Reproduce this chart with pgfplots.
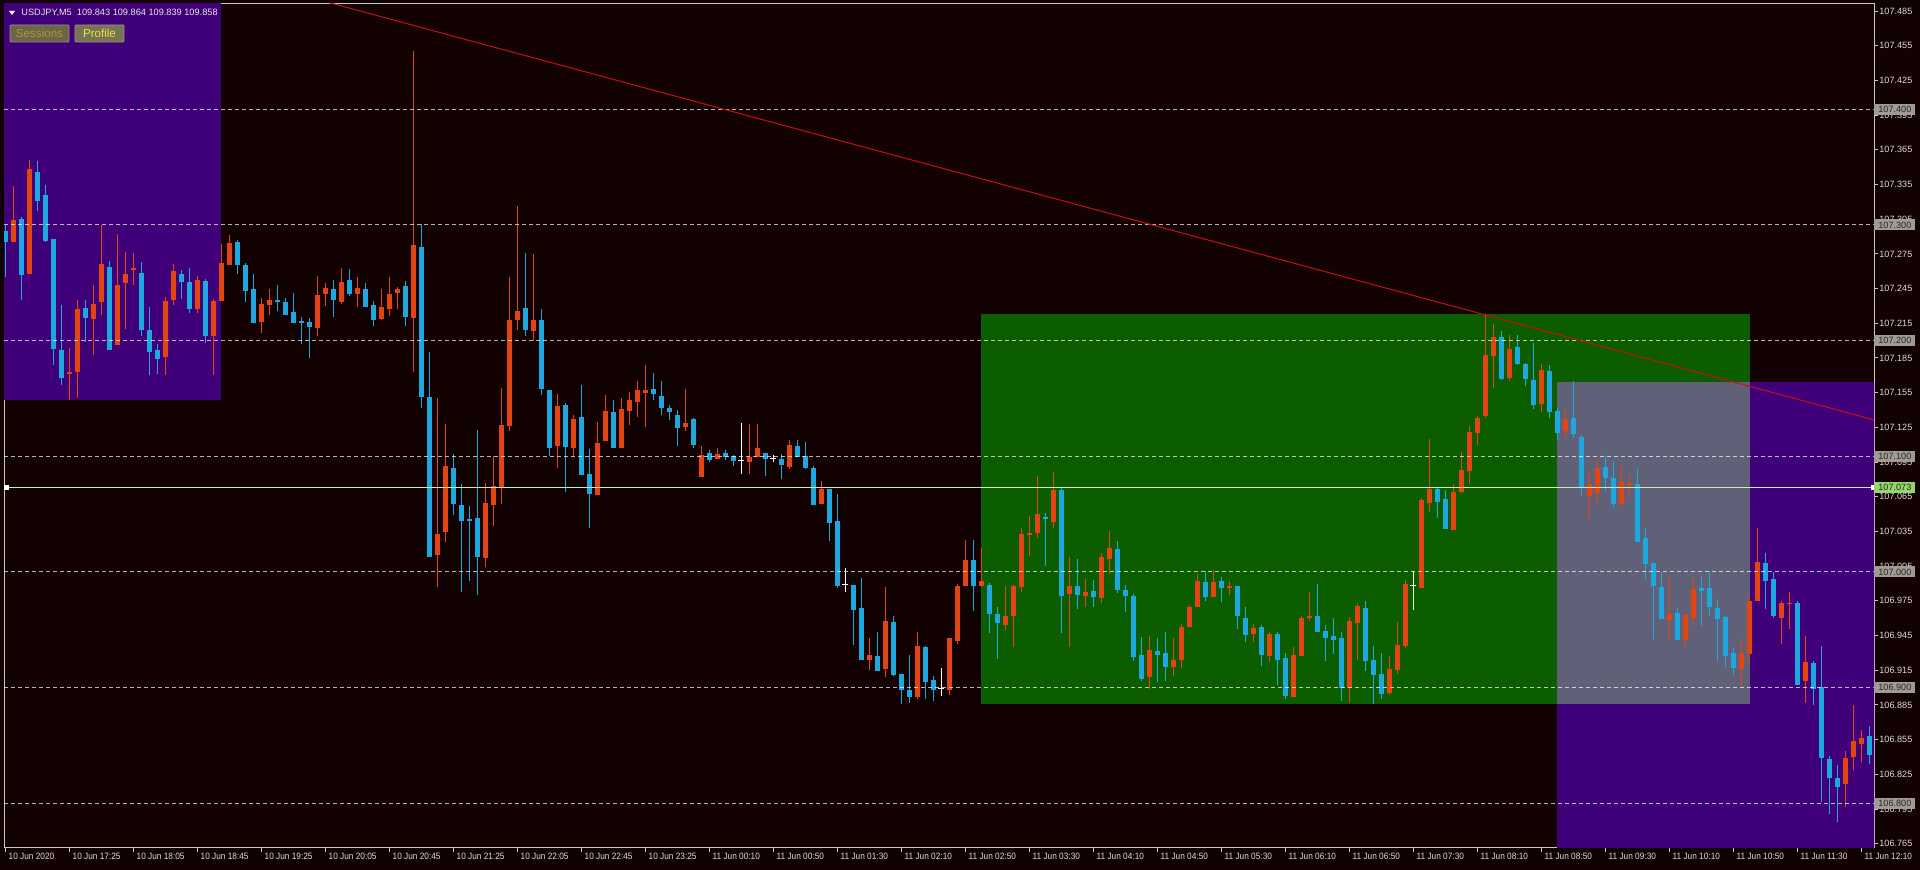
\documentclass[border=0pt]{standalone}
\usepackage{fontspec}
\setmainfont{Liberation Sans}
\newfontfamily\narrowfont{Liberation Sans}[FakeStretch=0.9]
\usepackage{pgfplots}
\usepackage{pgfplotstable}
\pgfplotsset{compat=1.18}
\definecolor{bgc}{RGB}{18,2,2}
\definecolor{purp}{RGB}{64,0,122}
\definecolor{grn}{RGB}{12,92,0}
\definecolor{gry}{RGB}{96,96,120}
\definecolor{upc}{RGB}{226,68,18}
\definecolor{dnc}{RGB}{30,168,224}
\definecolor{trend}{RGB}{200,16,16}
\definecolor{pline}{RGB}{200,238,176}
\definecolor{lvlbox}{RGB}{160,156,148}
\definecolor{pbox}{RGB}{150,214,110}
\definecolor{txt}{RGB}{220,220,220}
\definecolor{framec}{RGB}{200,200,200}

\pgfplotstableread{
i o h l c
0 107.297 107.300 107.255 107.287
1 107.287 107.334 107.287 107.306
2 107.307 107.307 107.235 107.258
3 107.258 107.356 107.258 107.348
4 107.346 107.355 107.312 107.321
5 107.327 107.335 107.285 107.287
6 107.288 107.288 107.179 107.193
7 107.192 107.231 107.162 107.168
8 107.172 107.194 107.149 107.174
9 107.175 107.235 107.150 107.229
10 107.229 107.235 107.199 107.220
11 107.220 107.248 107.188 107.233
12 107.234 107.300 107.222 107.267
13 107.265 107.269 107.193 107.193
14 107.197 107.292 107.196 107.249
15 107.250 107.277 107.210 107.258
16 107.261 107.276 107.248 107.263
17 107.259 107.268 107.204 107.210
18 107.211 107.229 107.170 107.192
19 107.193 107.197 107.171 107.186
20 107.186 107.238 107.170 107.235
21 107.236 107.266 107.231 107.261
22 107.259 107.261 107.236 107.252
23 107.251 107.263 107.224 107.227
24 107.228 107.256 107.224 107.253
25 107.253 107.253 107.198 107.205
26 107.205 107.236 107.170 107.235
27 107.235 107.284 107.234 107.268
28 107.267 107.291 107.266 107.286
29 107.286 107.287 107.258 107.266
30 107.266 107.267 107.233 107.244
31 107.245 107.258 107.215 107.216
32 107.216 107.237 107.207 107.232
33 107.231 107.245 107.222 107.236
34 107.236 107.248 107.226 107.234
35 107.235 107.237 107.222 107.224
36 107.226 107.241 107.216 107.217
37 107.218 107.220 107.197 107.216
38 107.217 107.220 107.185 107.212
39 107.212 107.256 107.204 107.241
40 107.241 107.250 107.230 107.246
41 107.246 107.252 107.220 107.237
42 107.234 107.263 107.232 107.251
43 107.253 107.262 107.239 107.241
44 107.241 107.255 107.229 107.246
45 107.246 107.250 107.229 107.230
46 107.231 107.234 107.213 107.218
47 107.219 107.245 107.218 107.229
48 107.229 107.255 107.221 107.242
49 107.243 107.246 107.227 107.246
50 107.248 107.252 107.213 107.221
51 107.220 107.450 107.173 107.283
52 107.282 107.301 107.142 107.152
53 107.152 107.190 107.013 107.014
54 107.016 107.150 106.987 107.034
55 107.035 107.128 107.026 107.092
56 107.090 107.102 107.049 107.059
57 107.059 107.076 106.983 107.045
58 107.047 107.057 106.992 107.045
59 107.047 107.123 106.980 107.013
60 107.013 107.077 107.004 107.061
61 107.059 107.100 107.040 107.076
62 107.074 107.159 107.059 107.128
63 107.126 107.255 107.122 107.218
64 107.218 107.316 107.209 107.226
65 107.229 107.276 107.204 107.210
66 107.209 107.275 107.200 107.219
67 107.219 107.227 107.153 107.160
68 107.157 107.157 107.100 107.107
69 107.109 107.154 107.090 107.144
70 107.144 107.146 107.069 107.108
71 107.108 107.136 107.100 107.133
72 107.135 107.162 107.085 107.085
73 107.085 107.106 107.038 107.068
74 107.068 107.130 107.067 107.113
75 107.113 107.153 107.113 107.139
76 107.139 107.149 107.108 107.108
77 107.108 107.150 107.108 107.142
78 107.141 107.156 107.127 107.150
79 107.148 107.165 107.134 107.158
80 107.156 107.179 107.125 107.159
81 107.159 107.172 107.149 107.154
82 107.154 107.165 107.136 107.143
83 107.142 107.144 107.131 107.138
84 107.137 107.140 107.109 107.126
85 107.126 107.158 107.122 107.130
86 107.133 107.133 107.107 107.110
87 107.084 107.109 107.084 107.103
88 107.103 107.105 107.095 107.097
89 107.099 107.107 107.098 107.103
90 107.103 107.105 107.097 107.100
91 107.101 107.101 107.092 107.096
92 107.096 107.129 107.085 107.096
93 107.096 107.128 107.085 107.100
94 107.100 107.128 107.100 107.108
95 107.103 107.103 107.083 107.098
96 107.098 107.101 107.095 107.098
97 107.098 107.102 107.080 107.093
98 107.091 107.114 107.089 107.110
99 107.110 107.114 107.100 107.100
100 107.101 107.112 107.089 107.091
101 107.091 107.092 107.058 107.059
102 107.059 107.079 107.059 107.072
103 107.072 107.072 107.027 107.043
104 107.044 107.067 106.986 106.988
105 106.989 107.003 106.983 106.989
106 106.989 106.989 106.937 106.968
107 106.969 106.995 106.924 106.924
108 106.924 106.943 106.915 106.928
109 106.928 106.948 106.914 106.915
110 106.917 106.987 106.909 106.958
111 106.958 106.962 106.910 106.912
112 106.912 106.912 106.886 106.898
113 106.899 106.928 106.887 106.893
114 106.893 106.948 106.890 106.937
115 106.936 106.936 106.890 106.906
116 106.907 106.910 106.888 106.898
117 106.899 106.917 106.893 106.899
118 106.898 106.943 106.894 106.943
119 106.941 106.990 106.938 106.989
120 106.988 107.028 106.988 107.011
121 107.011 107.028 106.966 106.988
122 106.989 107.021 106.987 106.994
123 106.990 106.990 106.947 106.965
124 106.964 106.970 106.925 106.956
125 106.956 106.988 106.950 106.963
126 106.963 106.989 106.935 106.989
127 106.987 107.038 106.983 107.033
128 107.032 107.048 107.014 107.034
129 107.034 107.083 107.029 107.051
130 107.047 107.051 107.005 107.046
131 107.045 107.086 107.038 107.072
132 107.072 107.073 106.947 106.981
133 106.981 107.013 106.935 106.988
134 106.988 107.011 106.968 106.980
135 106.980 106.994 106.970 106.983
136 106.984 106.993 106.970 106.979
137 106.978 107.016 106.973 107.013
138 107.011 107.035 106.998 107.021
139 107.021 107.027 106.982 106.985
140 106.986 106.989 106.965 106.981
141 106.981 106.981 106.923 106.928
142 106.930 106.944 106.906 106.909
143 106.910 106.945 106.899 106.933
144 106.934 106.943 106.905 106.930
145 106.931 106.948 106.906 106.919
146 106.919 106.943 106.910 106.925
147 106.925 106.955 106.917 106.954
148 106.953 106.971 106.952 106.970
149 106.970 106.998 106.970 106.993
150 106.993 107.001 106.975 106.980
151 106.980 107.002 106.980 106.993
152 106.993 106.996 106.974 106.987
153 106.987 106.992 106.980 106.989
154 106.988 106.988 106.951 106.962
155 106.962 106.970 106.939 106.947
156 106.947 106.955 106.939 106.952
157 106.952 106.954 106.919 106.928
158 106.928 106.948 106.922 106.947
159 106.947 106.948 106.902 106.925
160 106.926 106.930 106.890 106.893
161 106.893 106.935 106.893 106.930
162 106.929 106.962 106.929 106.962
163 106.961 106.983 106.958 106.963
164 106.963 106.990 106.949 106.949
165 106.950 106.954 106.923 106.944
166 106.945 106.960 106.929 106.942
167 106.943 106.948 106.888 106.900
168 106.900 106.961 106.887 106.958
169 106.956 106.973 106.924 106.971
170 106.969 106.975 106.914 106.923
171 106.924 106.936 106.886 106.911
172 106.912 106.930 106.890 106.895
173 106.896 106.927 106.894 106.917
174 106.916 106.957 106.912 106.938
175 106.936 106.993 106.934 106.990
176 106.988 107.001 106.967 106.988
177 106.987 107.064 106.987 107.063
178 107.061 107.115 107.052 107.073
179 107.073 107.073 107.047 107.062
180 107.063 107.071 107.037 107.037
181 107.037 107.076 107.037 107.070
182 107.070 107.104 107.068 107.089
183 107.088 107.126 107.076 107.122
184 107.122 107.135 107.110 107.135
185 107.135 107.223 107.133 107.188
186 107.187 107.214 107.159 107.204
187 107.204 107.208 107.166 107.167
188 107.168 107.205 107.165 107.193
189 107.195 107.205 107.179 107.180
190 107.180 107.181 107.161 107.167
191 107.167 107.198 107.141 107.145
192 107.146 107.180 107.138 107.175
193 107.175 107.179 107.133 107.139
194 107.141 107.142 107.114 107.122
195 107.122 107.141 107.116 107.133
196 107.133 107.165 107.116 107.119
197 107.118 107.118 107.066 107.074
198 107.066 107.086 107.045 107.076
199 107.068 107.098 107.060 107.090
200 107.092 107.101 107.070 107.082
201 107.082 107.096 107.055 107.059
202 107.059 107.092 107.057 107.078
203 107.075 107.084 107.063 107.077
204 107.077 107.090 107.027 107.027
205 107.030 107.038 106.993 107.008
206 107.008 107.008 106.942 106.988
207 106.988 107.000 106.960 106.960
208 106.959 106.996 106.942 106.965
209 106.965 106.970 106.942 106.942
210 106.942 106.964 106.934 106.964
211 106.962 106.996 106.953 106.987
212 106.988 106.996 106.953 106.985
213 106.986 107.001 106.962 106.970
214 106.970 106.977 106.923 106.961
215 106.962 106.962 106.917 106.928
216 106.930 106.935 106.911 106.917
217 106.916 106.943 106.901 106.930
218 106.929 106.980 106.921 106.975
219 106.975 107.038 106.975 107.009
220 107.009 107.016 106.968 106.993
221 106.994 107.000 106.960 106.962
222 106.962 106.975 106.938 106.975
223 106.974 106.983 106.951 106.975
224 106.975 106.975 106.904 106.904
225 106.906 106.945 106.887 106.923
226 106.923 106.923 106.885 106.901
227 106.900 106.936 106.801 106.839
228 106.839 106.841 106.791 106.823
229 106.823 106.833 106.784 106.815
230 106.818 106.845 106.797 106.840
231 106.841 106.885 106.829 106.855
232 106.853 106.863 106.836 106.858
233 106.859 106.867 106.834 106.842
}\candles

\pgfplotsset{
  wick/.style={draw=none, mark=none,
    error bars/y dir=plus, error bars/y explicit, error bars/error mark=none,
    error bars/error bar style={line width=0.5pt, draw=#1}},
  body/.style={draw=none, mark=none,
    error bars/y dir=both, error bars/y explicit, error bars/error mark=none,
    error bars/error bar style={line width=2.5pt, draw=#1}},
}

\begin{document}
\begin{tikzpicture}
\fill[bgc] (-2pt,-11pt) rectangle (958pt,424pt);
\begin{axis}[
  at={(0pt,0pt)}, anchor=south west, scale only axis,
  width=935pt, height=422pt,
  xmin=-0.1625, xmax=233.59, ymin=106.7613, ymax=107.4911,
  clip mode=individual,
  axis line style={draw=framec, line width=0.5pt},
  tick style={draw=framec, line width=0.5pt},
  tick align=outside, major tick length=2pt,
  xtick pos=left, ytick pos=right, yticklabel pos=right,
  ytick={106.765,106.795,106.825,106.855,106.885,106.915,106.945,106.975,107.005,107.035,107.065,107.095,107.125,107.155,107.185,107.215,107.245,107.275,107.305,107.335,107.365,107.395,107.425,107.455,107.485},
  /pgf/number format/fixed, /pgf/number format/fixed zerofill,
  /pgf/number format/precision=3, /pgf/number format/assume math mode=true,
  yticklabel style={font=\fontsize{4.55}{5}\selectfont, text=txt, anchor=west, inner sep=0.5pt, xshift=0pt},
  xtick={0,8,...,232},
  xticklabels={10 Jun 2020,10 Jun 17:25,10 Jun 18:05,10 Jun 18:45,10 Jun 19:25,10 Jun 20:05,10 Jun 20:45,10 Jun 21:25,10 Jun 22:05,10 Jun 22:45,10 Jun 23:25,11 Jun 00:10,11 Jun 00:50,11 Jun 01:30,11 Jun 02:10,11 Jun 02:50,11 Jun 03:30,11 Jun 04:10,11 Jun 04:50,11 Jun 05:30,11 Jun 06:10,11 Jun 06:50,11 Jun 07:30,11 Jun 08:10,11 Jun 08:50,11 Jun 09:30,11 Jun 10:10,11 Jun 10:50,11 Jun 11:30,11 Jun 12:10},
  xticklabel style={font=\narrowfont\fontsize{4.6}{5}\selectfont, text=txt, anchor=north west, inner sep=0.5pt, xshift=1pt},
]
% session / range boxes
\addplot[fill=purp, draw=none] coordinates {(-5,107.149) (27,107.149) (27,107.6) (-5,107.6)};
\addplot[fill=purp, draw=none] coordinates {(194,106.70) (240,106.70) (240,107.164) (194,107.164)};
\addplot[fill=grn, draw=none] coordinates {(122,106.886) (218.1,106.886) (218.1,107.223) (122,107.223)};
\addplot[fill=gry, draw=none] coordinates {(194,106.886) (218.1,106.886) (218.1,107.164) (194,107.164)};

% candles: up (orange)
\addplot[wick=upc, restrict expr to domain={\thisrow{c}-\thisrow{o}}{0.00001:10}]
  table[x=i, y=l, y error plus expr={\thisrow{h}-\thisrow{l}}] {\candles};
\addplot[body=upc, restrict expr to domain={\thisrow{c}-\thisrow{o}}{0.00001:10}]
  table[x=i, y expr={(\thisrow{o}+\thisrow{c})/2}, y error expr={max(abs(\thisrow{c}-\thisrow{o})/2,0.0005)}] {\candles};
% candles: down (blue)
\addplot[wick=dnc, restrict expr to domain={\thisrow{c}-\thisrow{o}}{-10:-0.00001}]
  table[x=i, y=l, y error plus expr={\thisrow{h}-\thisrow{l}}] {\candles};
\addplot[body=dnc, restrict expr to domain={\thisrow{c}-\thisrow{o}}{-10:-0.00001}]
  table[x=i, y expr={(\thisrow{o}+\thisrow{c})/2}, y error expr={max(abs(\thisrow{c}-\thisrow{o})/2,0.0005)}] {\candles};
% doji (white)
\addplot[wick=white, restrict expr to domain={\thisrow{c}-\thisrow{o}}{-0.000001:0.000001}]
  table[x=i, y=l, y error plus expr={\thisrow{h}-\thisrow{l}}] {\candles};
\addplot[only marks, mark=-, mark size=1.5pt, mark options={draw=white, line width=0.5pt},
  restrict expr to domain={\thisrow{c}-\thisrow{o}}{-0.000001:0.000001}]
  table[x=i, y=c] {\candles};

% level lines
\addplot[draw=white, opacity=0.7, line width=0.5pt, dash pattern=on 2pt off 1.5pt] coordinates {(-1,107.4) (240,107.4)};
\addplot[draw=white, opacity=0.7, line width=0.5pt, dash pattern=on 2pt off 1.5pt] coordinates {(-1,107.3) (240,107.3)};
\addplot[draw=white, opacity=0.7, line width=0.5pt, dash pattern=on 2pt off 1.5pt] coordinates {(-1,107.2) (240,107.2)};
\addplot[draw=white, opacity=0.7, line width=0.5pt, dash pattern=on 2pt off 1.5pt] coordinates {(-1,107.1) (240,107.1)};
\addplot[draw=white, opacity=0.7, line width=0.5pt, dash pattern=on 2pt off 1.5pt] coordinates {(-1,107.0) (240,107.0)};
\addplot[draw=white, opacity=0.7, line width=0.5pt, dash pattern=on 2pt off 1.5pt] coordinates {(-1,106.9) (240,106.9)};
\addplot[draw=white, opacity=0.7, line width=0.5pt, dash pattern=on 2pt off 1.5pt] coordinates {(-1,106.8) (240,106.8)};
% trend line
\addplot[draw=trend, line width=0.5pt] coordinates {(35,107.5025) (234,107.1307)};
% current price line
\addplot[draw=pline, line width=0.5pt] coordinates {(0.1,107.073) (233.5,107.073)};
\addplot[only marks, mark=square*, mark size=0.9pt, mark options={fill=white, draw=white}] coordinates {(0.1,107.073) (233.5,107.073)};

\coordinate (y400) at (axis cs:233.59,107.4);
\coordinate (y300) at (axis cs:233.59,107.3);
\coordinate (y200) at (axis cs:233.59,107.2);
\coordinate (y100) at (axis cs:233.59,107.1);
\coordinate (y000) at (axis cs:233.59,107.0);
\coordinate (y900) at (axis cs:233.59,106.9);
\coordinate (y800) at (axis cs:233.59,106.8);
\coordinate (y073) at (axis cs:233.59,107.073);
\end{axis}
% price level tags
\foreach \n/\t in {y400/107.400,y300/107.300,y200/107.200,y100/107.100,y000/107.000,y900/106.900,y800/106.800}{
  \node[anchor=west, fill=lvlbox, text=black!85, inner xsep=2pt, inner ysep=0pt, minimum height=5.5pt,
        font=\fontsize{4.55}{5}\selectfont] at (\n) {\t};
}
\node[anchor=west, fill=pbox, text=black!85, inner xsep=2pt, inner ysep=0pt, minimum height=5.5pt,
      font=\fontsize{4.55}{5}\selectfont] at (y073) {107.073};
% header text and buttons
\fill[white] (2.5pt,418.5pt) -- (5.5pt,418.5pt) -- (4pt,416.5pt) -- cycle;
\node[anchor=west, inner sep=0pt, text=white!90!black, font=\fontsize{4.6}{5}\selectfont] at (8.5pt,417.4pt) {USDJPY,M5\ \ 109.843 109.864 109.839 109.858};
\draw[fill={rgb,255:red,106;green,102;blue,72}, draw={rgb,255:red,150;green,146;blue,140}, line width=0.4pt, rounded corners=0.5pt] (3pt,403pt) rectangle (32.5pt,411.5pt);
\node[text={rgb,255:red,172;green,152;blue,62}, font=\fontsize{5.8}{6}\selectfont, inner sep=0pt] at (17.75pt,407.25pt) {Sessions};
\draw[fill={rgb,255:red,120;green,115;blue,82}, draw={rgb,255:red,150;green,146;blue,140}, line width=0.4pt, rounded corners=0.5pt] (35.5pt,403pt) rectangle (60pt,411.5pt);
\node[text={rgb,255:red,232;green,226;blue,80}, font=\fontsize{5.8}{6}\selectfont, inner sep=0pt] at (47.75pt,407.25pt) {Profile};
\pgfresetboundingbox
\useasboundingbox (-2pt,-11pt) rectangle (958pt,424pt);
\end{tikzpicture}
\end{document}
